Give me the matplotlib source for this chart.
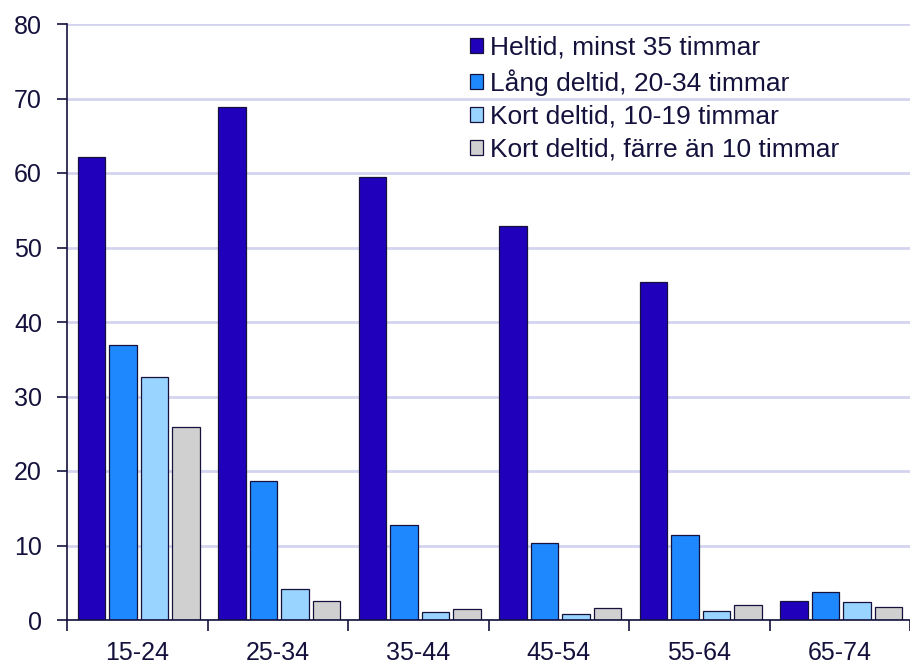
import numpy as np
import matplotlib
matplotlib.use("Agg")
import matplotlib.pyplot as plt

NAVY = "#14123c"
GRID = "#d4d4f0"

groups = ["15-24", "25-34", "35-44", "45-54", "55-64", "65-74"]
labels = ["Heltid, minst 35 timmar", "Lång deltid, 20-34 timmar",
          "Kort deltid, 10-19 timmar", "Kort deltid, färre än 10 timmar"]
heltid = [62.1, 68.9, 59.5, 52.9, 45.4, 2.5]
lang_deltid = [36.9, 18.7, 12.8, 10.4, 11.4, 3.7]
kort_10_19 = [32.6, 4.1, 1.1, 0.8, 1.2, 2.4]
kort_under10 = [25.9, 2.6, 1.5, 1.65, 2.0, 1.8]
colors = ["#2000bb", "#1e88ff", "#99d3ff", "#d0d0d0"]

plt.rcParams.update({"font.family": ["Liberation Sans", "DejaVu Sans"],
                     "font.size": 18, "text.color": NAVY})

fig = plt.figure(figsize=(9.1, 6.63), dpi=100)
ax = fig.add_axes([67 / 910, 1 - 620 / 663, 1 - 67 / 910, (620 - 24) / 663])

x = np.arange(len(groups))
w, pitch = 0.195, 0.224
for i, (vals, lab, col) in enumerate(zip([heltid, lang_deltid, kort_10_19, kort_under10], labels, colors)):
    ax.bar(x + (i - 1.5) * pitch + 0.01, vals, w, color=col, edgecolor=NAVY, lw=0.9, label=lab)

ax.set_xlim(-0.5, len(groups) - 0.5)
ax.set_ylim(0, 80)
ax.set_yticks(range(0, 81, 10))
ax.set_xticks(x)
ax.set_xticklabels(groups)
ax.set_xticks(np.arange(-0.5, len(groups)), minor=True)
ax.tick_params(axis="x", which="major", length=0, pad=15, labelcolor=NAVY)
ax.tick_params(axis="x", which="minor", length=8, width=1.2, color=NAVY, direction="out")
ax.tick_params(axis="y", length=7, width=1.2, color=NAVY, pad=11, labelcolor=NAVY)

ax.grid(axis="y", color=GRID, lw=2)
ax.set_axisbelow(True)
for s in ("top", "right"):
    ax.spines[s].set_visible(False)
for s in ("left", "bottom"):
    ax.spines[s].set_color(NAVY)
    ax.spines[s].set_linewidth(1.2)

ax.legend(loc="upper left", bbox_to_anchor=((470 - 67) / (910 - 67), 1 - (36 - 24) / 596),
          frameon=False, borderpad=0, borderaxespad=0, handlelength=0.5, handleheight=0.5,
          handletextpad=0.27, labelspacing=0.34, fontsize=19)

fig.savefig("out.png", dpi=100)
